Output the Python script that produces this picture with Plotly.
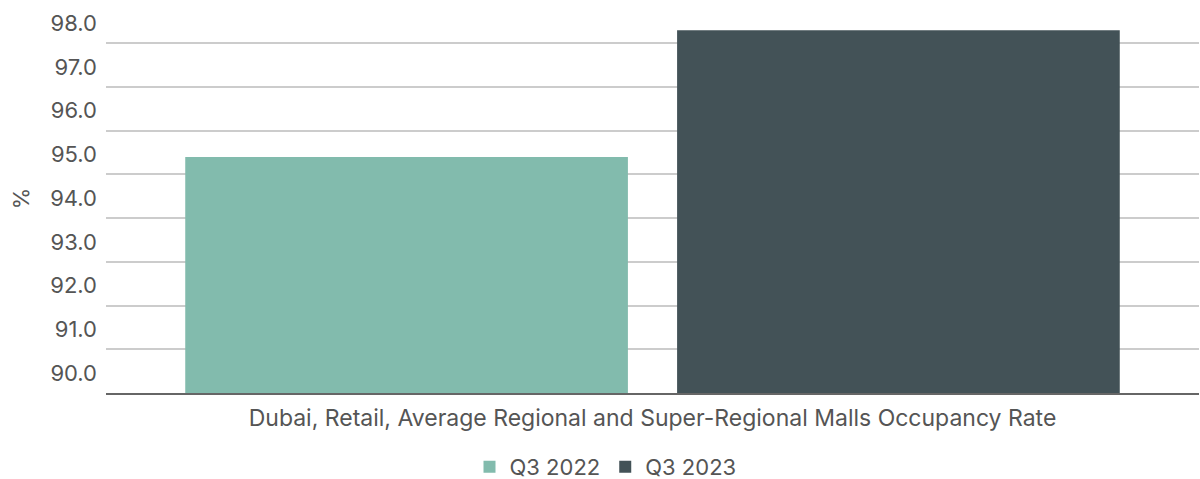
import plotly.graph_objects as go

categories = ["Dubai, Retail, Average Regional and Super-Regional Malls Occupancy Rate"]
series_names = ["Q3 2022", "Q3 2023"]
q3_2022 = [95.4]
q3_2023 = [98.3]
colors = ["#82BBAD", "#435257"]
y_ticks = [90, 91, 92, 93, 94, 95, 96, 97, 98]

FONT = "Inter"
TXT = "#555555"

fig = go.Figure()
for name, vals, col in zip(series_names, [q3_2022, q3_2023], colors):
    fig.add_trace(go.Bar(x=categories, y=vals, name=name, marker=dict(color=col, line=dict(width=0))))

fig.update_layout(
    width=1200, height=479,
    margin=dict(l=106, r=1, t=4, b=86, autoexpand=False),
    paper_bgcolor="white", plot_bgcolor="white",
    barmode="group", bargap=0.1, bargroupgap=0.1,
    font=dict(family=FONT, size=22, color=TXT),
    showlegend=True,
    legend=dict(orientation="h", x=0.457, xanchor="center", yref="container", y=0.025, yanchor="middle",
                font=dict(size=22, color=TXT), itemwidth=30, traceorder="normal"),
)
fig.update_yaxes(
    range=[90, 98.9], tickvals=y_ticks, tickformat=".1f",
    showgrid=True, gridcolor="#cccccc", gridwidth=2,
    zeroline=False, showline=False, ticks="", automargin=False,
    ticklabelshift=-20, ticklabelstandoff=8,
    title=dict(text="%", font=dict(size=22, color=TXT), standoff=14),
)
fig.update_xaxes(
    showline=True, linecolor="#666666", linewidth=2, ticks="", automargin=False,
    ticklabelstandoff=3,
    tickfont=dict(size=23, color=TXT),
)
fig.write_html("out.html")
